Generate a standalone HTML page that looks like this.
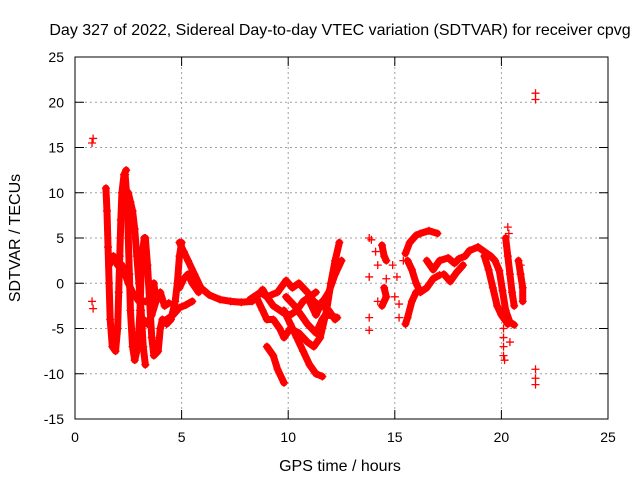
<!DOCTYPE html>
<html><head><meta charset="utf-8"><style>
body{margin:0;background:#fff;}
svg{display:block;font-family:"Liberation Sans",sans-serif;}
</style></head><body>
<svg id="chart" width="640" height="480">
<rect width="640" height="480" fill="#fff"/>
<g id="grid"></g>
<g id="marks"></g>
<rect x="75" y="57" width="533" height="362" fill="none" stroke="#000" stroke-width="1"/>
<g id="ticks"></g>
<text x="340" y="35" text-anchor="middle" font-size="16">Day 327 of 2022, Sidereal Day-to-day VTEC variation (SDTVAR) for receiver cpvg</text>
<text x="340" y="471" text-anchor="middle" font-size="16">GPS time / hours</text>
<text transform="translate(20,238) rotate(-90)" text-anchor="middle" font-size="16">SDTVAR / TECUs</text>
</svg>
<script>
const xTicks=[0,5,10,15,20,25];
const yTicks=[-15,-10,-5,0,5,10,15,20,25];
const tracks=[
[[1.45,10.5],[1.5,8],[1.55,4],[1.6,0],[1.65,-4],[1.75,-7],[1.9,-7.5],[2.0,-5],[2.05,-1],[2.1,3],[2.15,7],[2.2,10],[2.3,12],[2.4,12.5]],
[[2.35,12],[2.45,9],[2.5,5],[2.55,1],[2.6,-3],[2.7,-7],[2.8,-8.5],[2.95,-7],[3.05,-3],[3.1,1],[3.2,4],[3.25,5]],
[[2.5,10],[2.6,9],[2.7,8],[2.8,6],[2.9,3],[3.0,0],[3.1,-3],[3.2,-7],[3.3,-9]],
[[3.3,5],[3.4,2],[3.5,-2],[3.6,-6],[3.7,-8],[3.9,-7.5],[4.0,-5],[4.1,-4],[4.3,-4.5],[4.5,-4],[4.7,-2],[4.8,0],[4.9,3],[5.0,4.5]],
[[1.6,2],[1.8,3],[2.0,2],[2.2,2],[2.5,0],[2.7,-1],[3.0,-2],[3.3,-2],[3.5,-2],[3.7,0],[3.8,-2]],
[[3.2,-4],[3.4,-4.5],[3.6,-3.5],[3.8,-2],[4.0,-1],[4.2,-2.5],[4.4,-2.2]],
[[4.9,4.5],[5.1,3.5],[5.3,2.5],[5.6,1],[5.9,-0.5],[6.3,-1.3],[6.8,-1.8],[7.3,-2],[7.8,-2.1],[8.3,-2],[8.6,-1.3],[8.8,-0.7],[9.0,-1.5],[9.3,-2.5],[9.8,-3.3],[10.1,-3.5],[10.4,-3],[10.7,-2],[11.0,-1.5],[11.3,-1]],
[[4.3,-4],[4.6,-3.5],[4.9,-2.7],[5.2,-2.4],[5.5,-2]],
[[4.9,-0.5],[5.1,0.5],[5.3,1],[5.5,0],[5.8,-1]],
[[8.5,-1.5],[8.8,-3],[9.0,-4],[9.3,-4],[9.6,-5],[9.8,-6],[10.1,-5],[10.5,-5.5],[10.9,-6.5],[11.2,-7],[11.5,-6],[11.8,-3],[12.0,0],[12.2,2.5],[12.4,4.5]],
[[9.0,-7],[9.3,-8],[9.5,-9.5],[9.8,-11]],
[[9.8,-3],[10.1,-4.5],[10.4,-6],[10.7,-7.5],[11.0,-9],[11.3,-10],[11.6,-10.3]],
[[8.2,-1.8],[8.7,-1],[9.0,-1.5],[9.5,-1],[9.9,0.3],[10.2,-0.5],[10.5,0],[10.9,-1],[11.2,-2],[11.5,-2.5],[11.9,-1],[12.2,1],[12.5,2.5]],
[[9.9,-1.5],[10.3,-2.5],[10.6,-3.5],[10.9,-4.5],[11.3,-5.5],[11.6,-4],[11.9,-3],[12.2,-4]],
[[11.0,-2],[11.3,-3.5],[11.6,-2],[11.9,-3.5],[12.3,-3.8]],
[[14.4,4.2],[14.5,3],[14.6,2.5]],
[[14.5,-0.5],[14.6,-1.5],[14.4,-2.5]],
[[15.5,-4.5],[15.6,-3.8],[15.8,-2],[16.0,-1]],
[[15.5,3.3],[15.7,4.5],[16.0,5.3],[16.2,5.5],[16.6,5.8],[17.0,5.5]],
[[15.6,2.5],[15.8,1.5],[16.0,0],[16.2,-1],[16.5,-0.5],[16.8,0.5],[17.1,0.9]],
[[16.5,2.5],[16.8,1.5],[17.1,2.5],[17.5,2.8],[17.8,2.2],[18.0,2.7],[18.3,3],[18.5,3.6]],
[[17.3,1],[17.6,0.2],[17.9,1.2],[18.2,2]],
[[18.5,3.6],[18.9,4],[19.2,3.5],[19.5,3],[19.7,2.5],[19.9,1.4],[20.05,-0.8],[20.2,-3],[20.4,-4.3],[20.6,-4.6]],
[[19.2,3],[19.4,1.5],[19.6,-0.5],[19.8,-2.5],[20.0,-3.5],[20.3,-4.5]],
[[20.2,5],[20.3,3],[20.4,1],[20.5,-1],[20.6,-2.5]],
[[20.8,2.5],[20.9,1],[21.0,-0.5],[21.0,-2]]
];
const points=[[0.8,15.5],[0.85,16],[0.8,-2],[0.85,-2.8],[13.8,5],[13.9,4.8],[13.8,0.7],[13.8,-3.8],[13.8,-5.2],[14.1,3.5],[14.2,2],[14.2,-2],[14.6,0.5],[15.0,-1.5],[15.2,-2.3],[15.2,-3.8],[15.1,0.7],[14.9,2],[15.4,2.5],[20.1,-5],[20.1,-6],[20.1,-7],[20.1,-8],[20.15,-8.5],[20.4,-6.5],[20.3,6.2],[20.35,5.5],[20.9,2],[21.6,21],[21.6,20.3],[21.6,-9.5],[21.6,-10.5],[21.6,-11.2]];
const X=h=>75+h*(533/25);
const Y=v=>419-(v+15)*(362/40);
const NS="http://www.w3.org/2000/svg";
const grid=document.getElementById('grid'),ticks=document.getElementById('ticks'),marks=document.getElementById('marks');
function mk(tag,attrs,parent){const e=document.createElementNS(NS,tag);for(const k in attrs)e.setAttribute(k,attrs[k]);parent.appendChild(e);return e;}
xTicks.forEach(t=>{const x=X(t);
 if(t>0&&t<25){const g=mk('line',{x1:x,y1:57,x2:x,y2:419,stroke:'#a0a0a0','stroke-dasharray':'2,3'},grid);}
 mk('line',{x1:x,y1:419,x2:x,y2:410,stroke:'#000'},ticks);mk('line',{x1:x,y1:57,x2:x,y2:66,stroke:'#000'},ticks);
 const l=mk('text',{x:x,y:442,'text-anchor':'middle','font-size':14},ticks);l.textContent=t;
 
 });
yTicks.forEach(t=>{const y=Y(t);
 if(t>-15&&t<25){const g=mk('line',{x1:75,y1:y,x2:608,y2:y,stroke:'#a0a0a0','stroke-dasharray':'2,3'},grid);}
 mk('line',{x1:75,y1:y,x2:84,y2:y,stroke:'#000'},ticks);mk('line',{x1:608,y1:y,x2:599,y2:y,stroke:'#000'},ticks);
 const l=mk('text',{x:64,y:y+5,'text-anchor':'end','font-size':14},ticks);l.textContent=t;
 
 });
function plus(h,v){const x=X(h),y=Y(v);
 const p=mk('path',{d:`M${x-4},${y}H${x+4}M${x},${y-4}V${y+4}`,stroke:'#f00','stroke-width':1.3,fill:'none'},marks);
 
 }
tracks.forEach(tr=>{
 const pl=mk('polyline',{points:tr.map(p=>X(p[0])+','+Y(p[1])).join(' '),fill:'none',stroke:'#f00','stroke-width':7,'stroke-linejoin':'round','stroke-linecap':'round'},marks);
 
 
 tr.forEach(p=>plus(p[0],p[1]));});
points.forEach(p=>plus(p[0],p[1]));
</script>
</body></html>
